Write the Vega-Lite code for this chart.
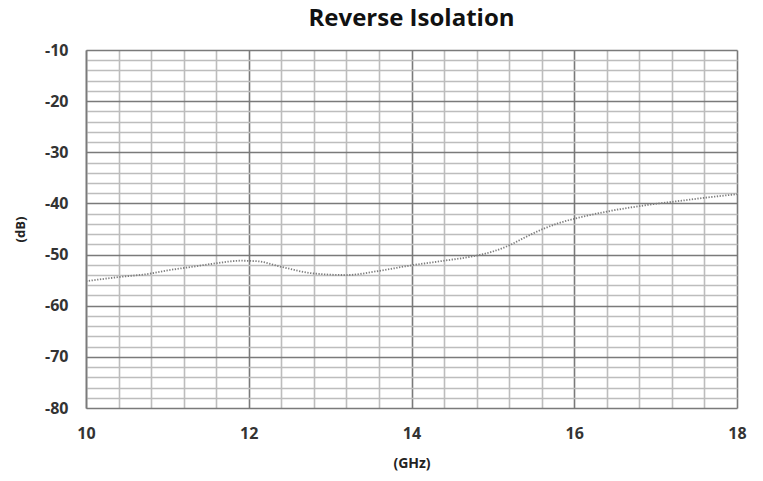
{
  "$schema": "https://vega.github.io/schema/vega-lite/v6.json",
  "autosize": "none",
  "width": 651,
  "height": 358,
  "padding": {"left": 86, "top": 50, "right": 26, "bottom": 73},
  "background": "white",
  "title": {"text": "Reverse Isolation", "fontSize": 24, "font": "Open Sans", "fontWeight": "bold", "color": "#111", "offset": 11},
  "config": {"view": {"stroke": null}},
  "data": {"values": [
    {"f": 10.0, "db": -55.2},
    {"f": 10.4, "db": -54.4},
    {"f": 10.8, "db": -53.7},
    {"f": 11.0, "db": -53.1},
    {"f": 11.3, "db": -52.4},
    {"f": 11.6, "db": -51.7},
    {"f": 11.9, "db": -51.2},
    {"f": 12.1, "db": -51.3},
    {"f": 12.4, "db": -52.4},
    {"f": 12.8, "db": -53.7},
    {"f": 13.2, "db": -54.0},
    {"f": 13.6, "db": -53.2},
    {"f": 14.0, "db": -52.1},
    {"f": 14.4, "db": -51.2},
    {"f": 14.8, "db": -50.2},
    {"f": 15.0, "db": -49.4},
    {"f": 15.2, "db": -48.2},
    {"f": 15.4, "db": -46.6},
    {"f": 15.6, "db": -45.1},
    {"f": 15.8, "db": -43.9},
    {"f": 16.0, "db": -43.0},
    {"f": 16.4, "db": -41.6},
    {"f": 16.9, "db": -40.3},
    {"f": 17.3, "db": -39.5},
    {"f": 17.6, "db": -38.9},
    {"f": 18.0, "db": -38.2}
  ]},
  "mark": {"type": "line", "interpolate": "monotone", "color": "#7d7d7d", "strokeWidth": 1.8, "strokeDash": [1.3, 1.5]},
  "encoding": {
    "x": {
      "field": "f", "type": "quantitative",
      "scale": {"domain": [10, 18], "nice": false, "zero": false},
      "axis": {
        "title": "(GHz)",
        "values": [10, 10.4, 10.8, 11.2, 11.6, 12, 12.4, 12.8, 13.2, 13.6, 14, 14.4, 14.8, 15.2, 15.6, 16, 16.4, 16.8, 17.2, 17.6, 18],
        "labelExpr": "abs(datum.value - round(datum.value/2)*2) < 0.01 ? '' + round(datum.value) : ''",
        "labelFlush": false,
        "labelOverlap": false,
        "grid": true,
        "gridColor": {"condition": {"test": "abs(datum.value - round(datum.value/2)*2) < 0.01", "value": "#7a7a7a"}, "value": "#bdbdbd"},
        "gridWidth": 1.6,
        "ticks": false,
        "domain": false,
        "labelFont": "Open Sans", "labelFontSize": 16, "labelFontWeight": "bold", "labelColor": "#333", "labelPadding": 17,
        "titleFont": "Open Sans", "titleFontSize": 14, "titleFontWeight": "bold", "titleColor": "#222", "titlePadding": 15
      }
    },
    "y": {
      "field": "db", "type": "quantitative",
      "scale": {"domain": [-80, -10], "nice": false, "zero": false},
      "axis": {
        "title": "(dB)",
        "values": [-80, -78, -76, -74, -72, -70, -68, -66, -64, -62, -60, -58, -56, -54, -52, -50, -48, -46, -44, -42, -40, -38, -36, -34, -32, -30, -28, -26, -24, -22, -20, -18, -16, -14, -12, -10],
        "labelExpr": "datum.value % 10 === 0 ? '' + datum.value : ''",
        "labelOverlap": false,
        "grid": true,
        "gridColor": {"condition": {"test": "datum.value % 10 === 0", "value": "#7a7a7a"}, "value": "#bdbdbd"},
        "gridWidth": 1.6,
        "ticks": false,
        "domain": true, "domainColor": "#7a7a7a", "domainWidth": 1.6,
        "labelFont": "Open Sans", "labelFontSize": 16, "labelFontWeight": "bold", "labelColor": "#333", "labelPadding": 18,
        "titleFont": "Open Sans", "titleFontSize": 13, "titleFontWeight": "bold", "titleColor": "#222", "titlePadding": 17
      }
    }
  }
}
